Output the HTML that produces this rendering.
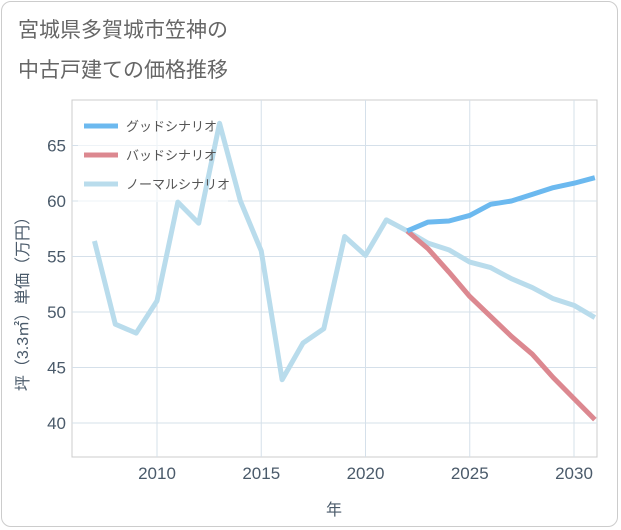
<!DOCTYPE html>
<html><head><meta charset="utf-8"><style>
body{margin:0;background:#fff;font-family:"Liberation Sans","Noto Sans CJK JP",sans-serif;}
#wrap{position:relative;width:621px;height:530px;}
#frame{position:absolute;left:1px;top:1px;width:617px;height:526px;border:1px solid #ccc;border-radius:10px;box-sizing:border-box;}
.title{position:absolute;left:18px;font-size:21px;color:#666;}
</style></head><body>
<div id="wrap">
<div id="frame"></div>
<div class="title" style="top:14px">宮城県多賀城市笠神の</div>
<div class="title" style="top:54px">中古戸建ての価格推移</div>
<svg id="chart" width="621" height="530" style="position:absolute;left:0;top:0"></svg>
</div>
<script>
const years=[2007,2008,2009,2010,2011,2012,2013,2014,2015,2016,2017,2018,2019,2020,2021,2022,2023,2024,2025,2026,2027,2028,2029,2030,2031];
const normalVals=[56.4,48.9,48.1,51,59.9,58,67,60,55.5,43.9,47.2,48.5,56.8,55.1,58.3,57.3,56.2,55.6,54.5,54,53,52.2,51.2,50.6,49.5];
const futureYears=[2022,2023,2024,2025,2026,2027,2028,2029,2030,2031];
const goodVals=[57.3,58.1,58.2,58.7,59.7,60,60.6,61.2,61.6,62.1];
const badVals=[57.3,55.7,53.6,51.4,49.6,47.8,46.2,44.1,42.2,40.3];
const xTicks=[2010,2015,2020,2025,2030];
const yTicks=[40,45,50,55,60,65];
const legendLabels=["グッドシナリオ","バッドシナリオ","ノーマルシナリオ"];
const L=72,R=597,T=100,B=457;
const x=v=>157+(v-2010)*20.85;
const y=v=>423-(v-40)*11.1;
const svg=document.getElementById('chart');
const NS='http://www.w3.org/2000/svg';
function mk(t,a,p){const e=document.createElementNS(NS,t);for(const k in a)e.setAttribute(k,a[k]);(p||svg).appendChild(e);return e;}
let e=mk('rect',{x:L,y:T,width:R-L,height:B-T,fill:'#fff',stroke:'#ccc'});

xTicks.forEach(t=>{let g=mk('line',{x1:x(t),x2:x(t),y1:T,y2:B,stroke:'#d5e0ea'});

let l=mk('text',{x:x(t),y:B+22,'text-anchor':'middle','font-size':17,fill:'#4a5a6a'});l.textContent=t;
});
yTicks.forEach(t=>{let g=mk('line',{x1:L,x2:R,y1:y(t),y2:y(t),stroke:'#d5e0ea'});

let l=mk('text',{x:L-6,y:y(t)+6,'text-anchor':'end','font-size':17,fill:'#4a5a6a'});l.textContent=t;
});
let xt=mk('text',{x:334,y:515,'text-anchor':'middle','font-size':16,fill:'#4a5a6a'});xt.textContent='年';

let yt=mk('text',{x:0,y:0,'text-anchor':'middle','font-size':16,fill:'#4a5a6a',transform:'translate(28,300) rotate(-90)'});yt.textContent='坪（3.3㎡）単価（万円）';

let lb=mk('rect',{x:78,y:110,width:150,height:92,fill:'#fff','fill-opacity':0.6});

const cp=mk('clipPath',{id:'cp'});mk('rect',{x:L,y:T,width:R-L,height:B-T},cp);
function line(xs,vs,c,n){const p=mk('polyline',{points:xs.map((v,i)=>x(v)+','+y(vs[i])).join(' '),fill:'none',stroke:c,'stroke-width':5,'stroke-linejoin':'round','clip-path':'url(#cp)'});
}
line(years,normalVals,'#b9dcec','normal-scenario-line');
line(futureYears,badVals,'#dc8890','bad-scenario-line');
line(futureYears,goodVals,'#6cb9ef','good-scenario-line');
const lc=['#6cb9ef','#dc8890','#b9dcec'];
legendLabels.forEach((s,i)=>{const yy=126+i*29;
let sw=mk('line',{x1:84,x2:118,y1:yy,y2:yy,stroke:lc[i],'stroke-width':5});

let t=mk('text',{x:126,y:yy+5,'font-size':13,fill:'#555'});t.textContent=s;
});
</script>
</body></html>
